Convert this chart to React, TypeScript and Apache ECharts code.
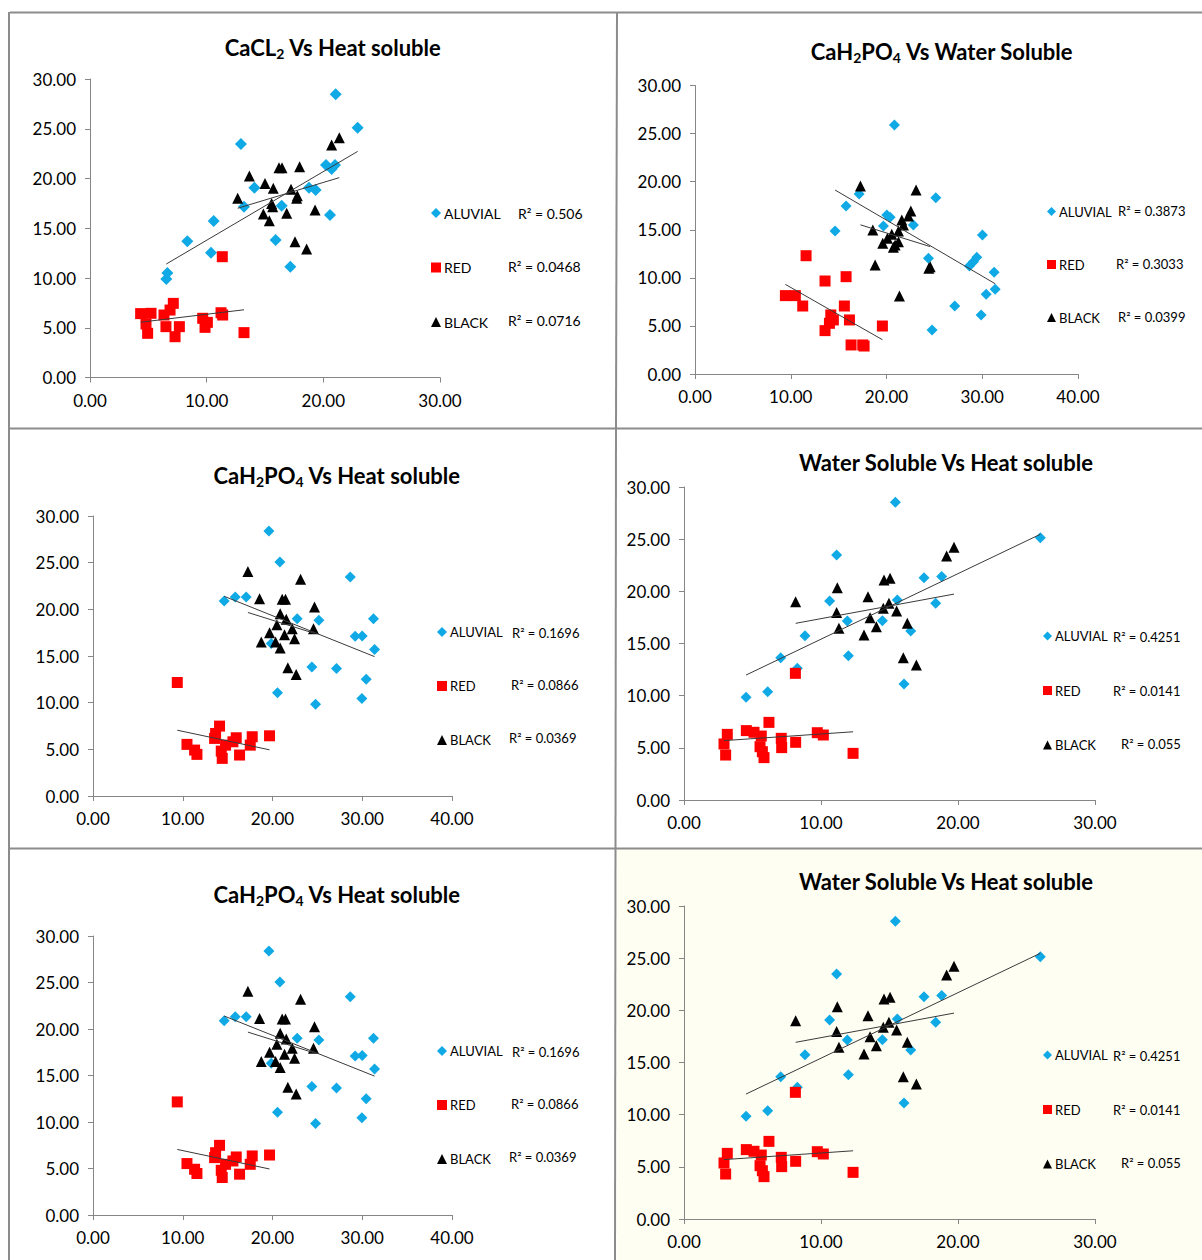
import React, { useEffect, useRef } from 'react';
import * as echarts from 'echarts';

const FONT = 'Lato, "Open Sans", sans-serif';

const seriesNames = ['ALUVIAL', 'RED', 'BLACK'];

// Panel 1: CaCL2 vs Heat soluble
const p1Aluvial = [
  [21.06, 28.46], [22.94, 25.11], [12.94, 23.47], [20.23, 21.36], [21.0, 21.36], [20.71, 20.96],
  [14.09, 19.08], [18.77, 19.08], [19.34, 18.84], [13.2, 17.17], [16.43, 17.27], [20.57, 16.33],
  [10.6, 15.73], [8.34, 13.69], [15.91, 13.82], [10.37, 12.54], [17.17, 11.14], [6.63, 10.5], [6.54, 9.9],
];
const p1Red = [
  [11.34, 12.14], [4.34, 6.42], [5.23, 6.45], [4.8, 5.38], [4.94, 4.44], [6.34, 6.28], [6.86, 6.78],
  [7.14, 7.45], [6.51, 5.11], [7.29, 4.1], [7.66, 5.11], [9.66, 5.95], [9.86, 5.04], [10.06, 5.54],
  [11.23, 6.51], [11.37, 6.28], [13.2, 4.51],
];
const p1Black = [
  [21.37, 24.1], [20.71, 23.36], [16.2, 21.09], [16.46, 21.09], [17.97, 21.19], [13.66, 20.25],
  [15.0, 19.51], [15.71, 19.01], [17.23, 18.91], [17.77, 18.27], [17.71, 18.01], [12.66, 18.01],
  [15.57, 17.5], [15.66, 17.17], [14.86, 16.43], [16.86, 16.5], [19.29, 16.83], [15.37, 15.76],
  [17.57, 13.65], [18.57, 12.91],
];
const p1R2 = ['R² = 0.506', 'R² = 0.0468', 'R² = 0.0716'];

// Panel 2: CaH2PO4 vs Water Soluble
const p2Aluvial = [
  [20.83, 25.89], [25.15, 18.34], [17.14, 18.72], [15.78, 17.47], [20.03, 16.53], [20.38, 16.29],
  [19.68, 15.39], [22.81, 15.49], [14.63, 14.87], [30.02, 14.45], [24.38, 12.03], [29.43, 12.13],
  [29.08, 11.68], [28.66, 11.23], [31.24, 10.57], [31.35, 8.8], [30.41, 8.28], [27.13, 7.07],
  [29.88, 6.14], [24.76, 4.58],
];
const p2Red = [
  [11.6, 12.3], [9.44, 8.15], [10.48, 8.15], [11.25, 7.07], [13.58, 9.67], [15.78, 10.12],
  [15.6, 7.07], [14.18, 6.14], [14.45, 5.62], [14.04, 5.27], [16.13, 5.62], [13.58, 4.51],
  [19.57, 4.99], [16.3, 3.02], [17.52, 3.02], [17.66, 2.91],
];
const p2Black = [
  [17.28, 19.55], [23.09, 19.13], [22.54, 16.95], [22.29, 16.43], [21.6, 16.01], [18.57, 14.97],
  [20.55, 14.52], [21.25, 14.87], [21.77, 15.49], [20.1, 14.11], [19.61, 13.59], [20.9, 13.41],
  [21.25, 13.76], [20.72, 13.17], [24.56, 11.16], [24.42, 10.99], [18.81, 11.33], [21.35, 8.11],
];
const p2R2 = ['R² = 0.3873', 'R² = 0.3033', 'R² = 0.0399'];

// Panel 3 (and 5): CaH2PO4 vs Heat soluble
const p3Aluvial = [
  [19.6, 28.4], [20.82, 25.06], [28.66, 23.46], [14.62, 20.89], [15.85, 21.32], [17.07, 21.32],
  [22.75, 19.0], [25.17, 18.82], [31.25, 19.0], [29.21, 17.11], [29.99, 17.15], [31.37, 15.69],
  [19.86, 16.33], [24.39, 13.83], [27.13, 13.65], [30.44, 12.51], [20.56, 11.05], [29.96, 10.45],
  [24.8, 9.84],
];
const p3Red = [
  [9.39, 12.16], [14.1, 7.49], [13.66, 6.7], [13.55, 6.17], [15.96, 6.24], [15.59, 5.81],
  [17.74, 6.35], [19.67, 6.45], [17.52, 5.45], [10.47, 5.53], [11.32, 4.92], [11.58, 4.46],
  [14.29, 4.81], [14.4, 4.03], [16.33, 4.39], [14.77, 5.45],
];
const p3Black = [
  [17.26, 24.06], [23.13, 23.21], [18.56, 21.14], [21.08, 21.07], [21.45, 21.07], [24.68, 20.25],
  [20.86, 19.54], [21.53, 18.93], [20.49, 18.36], [22.2, 17.93], [24.57, 17.93], [19.67, 17.5],
  [21.34, 17.29], [22.46, 16.86], [18.75, 16.51], [20.34, 16.51], [20.86, 15.86], [21.71, 13.73],
  [22.64, 13.01],
];
const p3R2 = ['R² = 0.1696', 'R² = 0.0866', 'R² = 0.0369'];

// Panel 4 (and 6): Water Soluble vs Heat soluble
const p4Aluvial = [
  [15.43, 28.53], [26.01, 25.14], [11.14, 23.48], [17.52, 21.31], [18.81, 21.41], [10.63, 19.07],
  [15.57, 19.17], [18.37, 18.85], [11.92, 17.16], [14.48, 17.19], [16.55, 16.2], [8.83, 15.75],
  [12.0, 13.83], [7.06, 13.64], [8.27, 12.62], [16.06, 11.12], [6.11, 10.38], [4.53, 9.84],
];
const p4Red = [
  [8.13, 12.14], [6.2, 7.44], [4.55, 6.65], [5.11, 6.49], [3.16, 6.29], [5.64, 6.13], [2.92, 5.37],
  [3.04, 4.31], [5.55, 5.11], [5.72, 4.63], [5.84, 4.06], [7.1, 5.91], [7.13, 5.02], [8.15, 5.53],
  [9.73, 6.45], [10.17, 6.23], [12.34, 4.47],
];
const p4Black = [
  [19.71, 24.22], [19.17, 23.39], [14.6, 21.09], [15.04, 21.25], [11.19, 20.35], [13.43, 19.49],
  [8.15, 19.01], [14.96, 18.85], [14.55, 18.37], [11.14, 17.96], [15.52, 18.12], [13.58, 17.48],
  [16.3, 16.93], [14.04, 16.61], [11.31, 16.45], [13.14, 15.81], [16.01, 13.64], [16.96, 12.94],
];
const p4R2 = ['R² = 0.4251', 'R² = 0.0141', 'R² = 0.055'];

const yMax = 30;
const yStep = 5;
const xStep = 10;

type Panel = {
  title: [string, string][];
  tx: number; ty: number;
  grid: { left: number; top: number; width: number; height: number };
  xMax: number;
  data: number[][][];
  r2: string[];
  legend: { left: number; top: number; gap: number; size: number; font: number };
  r2Pos: number[][];
  sizes: number[];
};

const panels: Panel[] = [
  {
    title: [['CaCL', 'm'], ['2', 's'], [' Vs Heat soluble', 'm']], tx: 333, ty: 47,
    grid: { left: 90, top: 79, width: 350, height: 298.5 }, xMax: 30,
    data: [p1Aluvial, p1Red, p1Black], r2: p1R2,
    legend: { left: 431, top: 206, gap: 40.5, size: 10, font: 14 },
    r2Pos: [[518, 213], [508, 266], [508, 320]], sizes: [12, 11, 11],
  },
  {
    title: [['CaH', 'm'], ['2', 's'], ['PO', 'm'], ['4', 's'], [' Vs Water Soluble', 'm']], tx: 942, ty: 51,
    grid: { left: 695, top: 85.5, width: 383, height: 288.5 }, xMax: 40,
    data: [p2Aluvial, p2Red, p2Black], r2: p2R2,
    legend: { left: 1047, top: 205, gap: 40, size: 9, font: 13 },
    r2Pos: [[1118, 211], [1116, 264], [1118, 317]], sizes: [11, 11, 11],
  },
  {
    title: [['CaH', 'm'], ['2', 's'], ['PO', 'm'], ['4', 's'], [' Vs Heat soluble', 'm']], tx: 337, ty: 475,
    grid: { left: 93, top: 516, width: 359, height: 280 }, xMax: 40,
    data: [p3Aluvial, p3Red, p3Black], r2: p3R2,
    legend: { left: 437, top: 625.5, gap: 41, size: 10, font: 13 },
    r2Pos: [[512, 633], [511, 685], [509, 738]], sizes: [11, 11, 11],
  },
  {
    title: [['Water Soluble Vs Heat soluble', 'm']], tx: 946, ty: 462,
    grid: { left: 684, top: 487, width: 411, height: 313 }, xMax: 30,
    data: [p4Aluvial, p4Red, p4Black], r2: p4R2,
    legend: { left: 1043, top: 629.5, gap: 41.5, size: 9, font: 13 },
    r2Pos: [[1113, 637], [1113, 691], [1121, 744]], sizes: [11, 11, 11],
  },
  {
    title: [['CaH', 'm'], ['2', 's'], ['PO', 'm'], ['4', 's'], [' Vs Heat soluble', 'm']], tx: 337, ty: 894,
    grid: { left: 93, top: 936, width: 359, height: 279 }, xMax: 40,
    data: [p3Aluvial, p3Red, p3Black], r2: p3R2,
    legend: { left: 437, top: 1044.5, gap: 41, size: 10, font: 13 },
    r2Pos: [[512, 1052], [511, 1104], [509, 1157]], sizes: [11, 11, 11],
  },
  {
    title: [['Water Soluble Vs Heat soluble', 'm']], tx: 946, ty: 881,
    grid: { left: 684, top: 906, width: 411, height: 313 }, xMax: 30,
    data: [p4Aluvial, p4Red, p4Black], r2: p4R2,
    legend: { left: 1043, top: 1048.5, gap: 41.5, size: 9, font: 13 },
    r2Pos: [[1113, 1056], [1113, 1110], [1121, 1163]], sizes: [11, 11, 11],
  },
];

const colors = ['#0FA9E6', '#FF0000', '#000000'];
const symbols = ['diamond', 'rect', 'triangle'];

function trendLine(points: number[][]): number[][] {
  const n = points.length;
  let sx = 0, sy = 0, sxx = 0, sxy = 0, xmin = Infinity, xmax = -Infinity;
  for (const [x, y] of points) {
    sx += x; sy += y; sxx += x * x; sxy += x * y;
    if (x < xmin) xmin = x;
    if (x > xmax) xmax = x;
  }
  const a = (n * sxy - sx * sy) / (n * sxx - sx * sx);
  const b = (sy - a * sx) / n;
  return [[xmin, a * xmin + b], [xmax, a * xmax + b]];
}

export default function App() {
  const ref = useRef<HTMLDivElement>(null);
  useEffect(() => {
    if (!ref.current) return;
    const chart = echarts.init(ref.current, null, { renderer: 'svg' });

    const axisCommon = {
      axisLine: { show: true, lineStyle: { color: '#868686', width: 1 } },
      axisTick: { show: true, length: 5, lineStyle: { color: '#868686' } },
      splitLine: { show: false },
      axisLabel: {
        color: '#000', fontSize: 17, fontFamily: FONT, margin: 14,
        formatter: (v: number) => v.toFixed(2),
      },
    };

    const grid: any[] = [];
    const xAxis: any[] = [];
    const yAxis: any[] = [];
    const series: any[] = [];
    const legend: any[] = [];
    const graphic: any[] = [];

    // cream background for the last panel
    graphic.push({
      type: 'rect', z: -10, silent: true,
      shape: { x: 617, y: 849, width: 585, height: 411 },
      style: { fill: '#FFFEF3' },
    });

    panels.forEach((p, i) => {
      grid.push({ ...p.grid, containLabel: false, outerBoundsMode: 'none' });
      xAxis.push({
        type: 'value', gridIndex: i, min: 0, max: p.xMax, interval: xStep, ...axisCommon,
      });
      yAxis.push({
        type: 'value', gridIndex: i, min: 0, max: yMax, interval: yStep, ...axisCommon,
      });
      p.data.forEach((pts, k) => {
        series.push({
          type: 'scatter', name: seriesNames[k], xAxisIndex: i, yAxisIndex: i,
          symbol: symbols[k], symbolSize: p.sizes[k],
          itemStyle: { color: colors[k], opacity: 1 },
          data: pts, z: 2,
        });
      });
      p.data.forEach((pts, k) => {
        series.push({
          type: 'line', name: seriesNames[k] + ' trend', xAxisIndex: i, yAxisIndex: i,
          data: trendLine(pts), symbol: 'none', silent: true, z: 3,
          lineStyle: { color: '#3a3a3a', width: 1 },
        });
      });
      legend.push({
        orient: 'vertical', left: p.legend.left, top: p.legend.top, padding: 0,
        itemWidth: p.legend.size, itemHeight: p.legend.size, itemGap: p.legend.gap,
        selectedMode: false,
        textStyle: { color: '#000', fontSize: p.legend.font, fontFamily: FONT, padding: [0, 0, 0, -2] },
        data: seriesNames.map((n, k) => ({ name: n, icon: symbols[k], itemStyle: { color: colors[k] } })),
      });
      p.r2.forEach((t, k) => {
        graphic.push({
          type: 'text', x: p.r2Pos[k][0], y: p.r2Pos[k][1], silent: true,
          style: {
            text: t, fill: '#000', fontSize: p.legend.font, fontFamily: FONT,
            align: 'left', textAlign: 'left', verticalAlign: 'middle', textVerticalAlign: 'middle',
          },
        });
      });
      const titleText = p.title.map(([s, st]) => `{${st}|${s}}`).join('');
      graphic.push({
        type: 'text', x: p.tx, y: p.ty, silent: true,
        style: {
          text: titleText, fill: '#000',
          align: 'center', textAlign: 'center', verticalAlign: 'middle', textVerticalAlign: 'middle',
          rich: {
            m: { fontSize: 22, fontWeight: 'bold', fontFamily: FONT, fill: '#000', lineHeight: 27 },
            s: { fontSize: 14, fontWeight: 'bold', fontFamily: FONT, fill: '#000', lineHeight: 14, verticalAlign: 'bottom' },
          },
        },
      });
    });

    // frame lines
    const frameStyle = { stroke: '#8c8c8c', lineWidth: 2 };
    const frames = [
      [10, 12.5, 1202, 12.5],
      [9, 12, 9, 1260],
      [617, 12, 616, 428],
      [616, 428, 615, 1260],
      [9, 428.5, 1202, 428.5],
      [9, 848.5, 1202, 848.5],
    ];
    frames.forEach(([x1, y1, x2, y2]) => {
      graphic.push({
        type: 'line', z: 100, silent: true,
        shape: { x1, y1, x2, y2 }, style: frameStyle,
      });
    });

    chart.setOption({
      animation: false,
      backgroundColor: '#ffffff',
      grid, xAxis, yAxis, series, legend, graphic,
    });
    return () => chart.dispose();
  }, []);

  return (
    <div
      ref={ref}
      style={{ position: 'absolute', left: 0, top: 0, width: 1202, height: 1260 }}
    />
  );
}
